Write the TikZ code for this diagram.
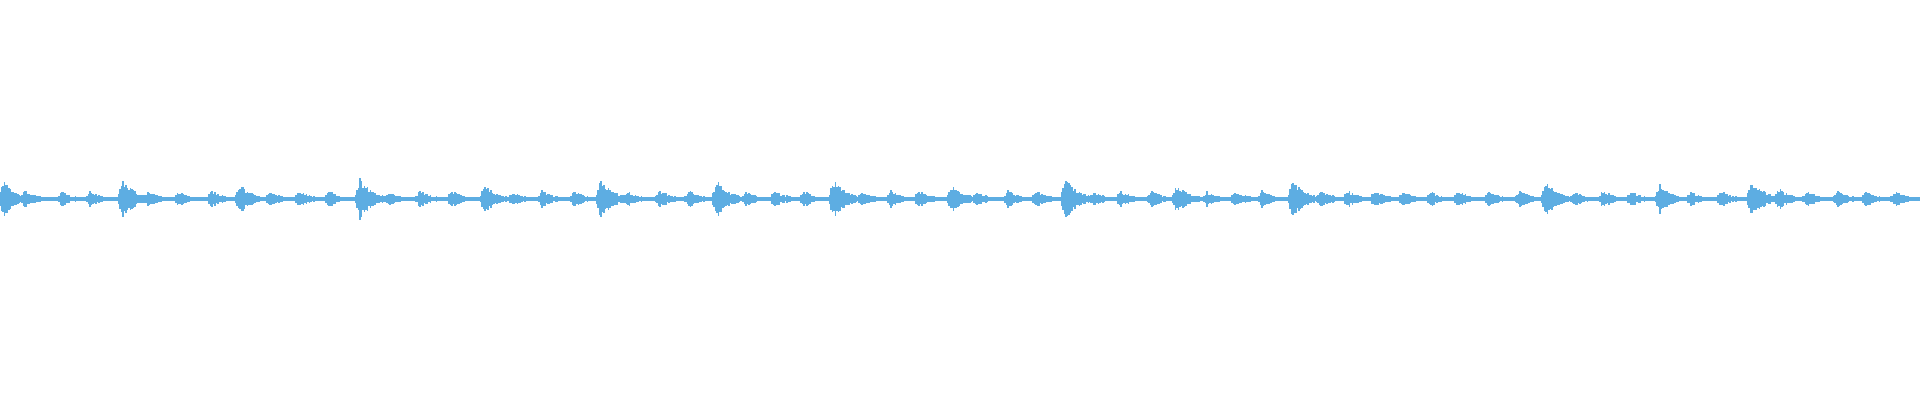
\documentclass[tikz,border=0pt]{standalone}
\definecolor{wave}{RGB}{93,173,226}
\begin{document}
\begin{tikzpicture}[x=1pt,y=-1pt,wavefill/.style={fill=wave,draw=none}]
\useasboundingbox (0,0) rectangle (1920,400);
\pgfmathsetseed{7}
\fill[wave] (0,197) rectangle (1920,201);
\foreach \p/\a in {2/20,24/9,61/8,89/9,122/22,147/9,178/8,211/9,239/15,269/8,298/9,328/9,359/22,389/8,419/9,451/9,484/15,512/8,541/9,573/9,600/22,627/8,659/9,688/9,716/20,745/8,774/9,803/9,833/20,861/8,890/9,918/9,951/15,976/8,1007/9,1035/9,1065/22,1093/8,1120/9,1151/9,1176/15,1206/8,1234/9,1261/9,1292/20,1320/9,1347/9,1374/9,1402/8,1430/8,1457/9,1488/9,1519/9,1545/20,1573/8,1602/9,1630/8,1659/15,1690/8,1720/9,1751/20,1778/11,1806/9,1837/9,1865/8,1894/9}{
  \foreach \d in {-6,-4.5,...,40}{
    \pgfmathsetmacro{\env}{\d<0 ? (1+\d/6.5) : exp(-\d/13)}
    \pgfmathsetmacro{\h}{max(2,\a*\env*(0.6+0.4*rnd))}
    \fill[wave] (\p+\d,199-\h) rectangle (\p+\d+1.6,199+\h);
  }
}
\end{tikzpicture}
\end{document}
